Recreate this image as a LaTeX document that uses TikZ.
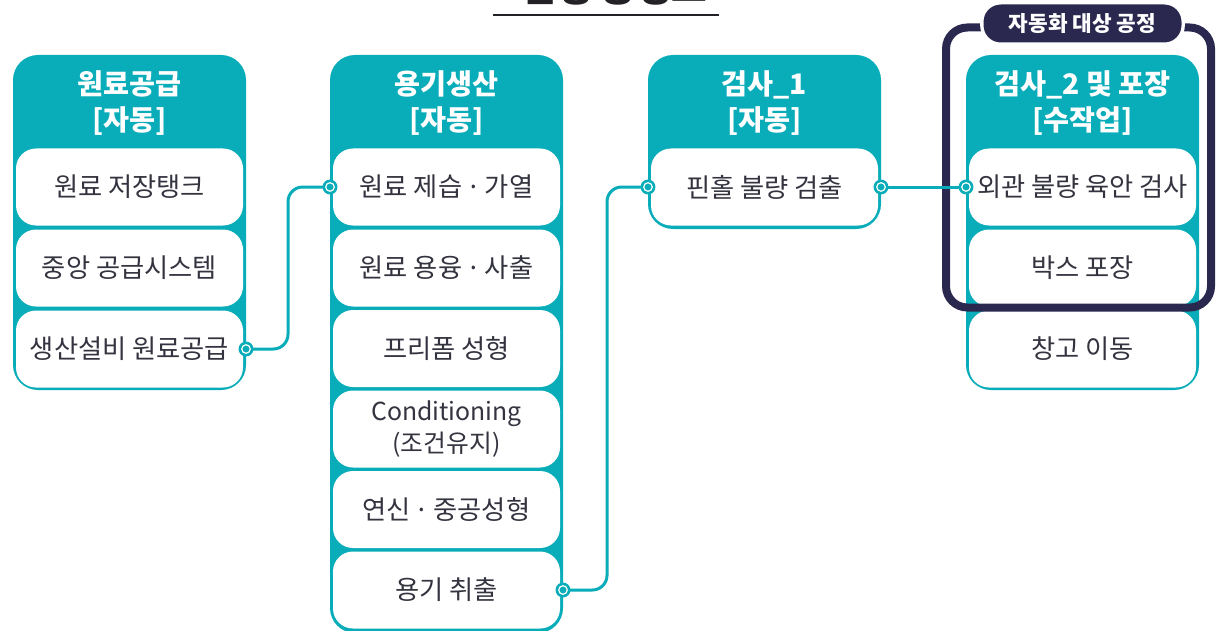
\documentclass[tikz,border=0pt]{standalone}
\usepackage{fontspec}
\setmainfont{Noto Sans CJK KR}
\definecolor{tealc}{RGB}{9,172,185}
\definecolor{navyc}{RGB}{42,40,78}
\definecolor{txtc}{RGB}{52,52,64}
\definecolor{titlec}{RGB}{35,33,38}
\newcommand\mdot{\hspace{0.28em}\makebox[0.3em]{·}\hspace{0.28em}}
\begin{document}
\begin{tikzpicture}[x=0.75pt,y=-0.75pt,
  outerbox/.style={fill=tealc, rounded corners=18.75pt},
  itembox/.style={fill=white, rounded corners=15pt, minimum width=170.25pt, minimum height=57.75pt,
    inner sep=0pt, outer sep=2.25pt, font=\fontsize{19.7}{24}\selectfont, text=txtc, align=center},
  headtxt/.style={font=\fontsize{21.2}{27}\selectfont\bfseries, text=white, align=center},
  conn/.style={draw=tealc, line width=2.25pt, rounded corners=11pt},
  frame/.style={draw=navyc, line width=6pt, rounded corners=16pt},
  pill/.style={fill=navyc, draw=white, line width=2.5pt, rounded corners=14pt, minimum width=151pt,
    minimum height=31pt, inner sep=0pt, text=white, font=\fontsize{16}{18}\selectfont\bfseries}
]
\useasboundingbox (0,0) rectangle (1216,631);
% title (cut off at top, as in the reference)
\node[anchor=base, text=titlec, font=\fontsize{29}{30}\selectfont\bfseries, inner sep=0pt] (title) at (614,2) {현행 공정도};
\draw[titlec, line width=1.9pt] (493,15) -- (719,15);

% column 1
\fill[outerbox] (13,55) rectangle (246,390);
\node[headtxt] (h1) at (129.5,103) {원료공급\\{[}자동]};
\node[itembox] (a1) at (129.5,187) {원료 저장탱크};
\node[itembox] (a2) at (129.5,268) {중앙 공급시스템};
\node[itembox] (a3) at (129.5,349) {생산설비 원료공급};

% column 2
\fill[outerbox] (330,55) rectangle (563,633);
\node[headtxt] (h2) at (446.5,103) {용기생산\\{[}자동]};
\node[itembox] (b1) at (446.5,187) {원료 제습\mdot 가열};
\node[itembox] (b2) at (446.5,268) {원료 용융\mdot 사출};
\node[itembox] (b3) at (446.5,348.5) {프리폼 성형};
\node[itembox, font=\fontsize{18.6}{24.5}\selectfont] (b4) at (446.5,429) {Conditioning\\(조건유지)};
\node[itembox] (b5) at (446.5,509.5) {연신\mdot 중공성형};
\node[itembox] (b6) at (446.5,590) {용기 취출};

% column 3
\fill[outerbox] (648,55) rectangle (881,229);
\node[headtxt] (h3) at (764.5,103) {검사\_1\\{[}자동]};
\node[itembox] (c1) at (764.5,187) {핀홀 불량 검출};

% column 4
\fill[outerbox] (966,55) rectangle (1199,390);
\node[headtxt] (h4) at (1082.5,103) {검사\_2 및 포장\\{[}수작업]};
\node[itembox] (d1) at (1082.5,187) {외관 불량 육안 검사};
\node[itembox] (d2) at (1082.5,268) {박스 포장};
\node[itembox] (d3) at (1082.5,349) {창고 이동};

% automation frame
\draw[frame] (946,27.5) rectangle (1211,307.5);
\node[pill] (lbl) at (1082.5,23.5) {자동화 대상 공정};

% connectors
\draw[conn] (a3.east) -- ++(42,0) |- (b1.west);
\draw[conn] (b6.east) -- ++(44,0) |- (c1.west);
\draw[conn] (c1.east) -- (d1.west);
\foreach \p in {a3.east,b1.west,b6.east,c1.west,c1.east,d1.west}{
  \fill[tealc] (\p) circle (5.6pt);
  \draw[white, line width=0.9pt] (\p) circle (3.2pt);
}
\end{tikzpicture}
\end{document}
